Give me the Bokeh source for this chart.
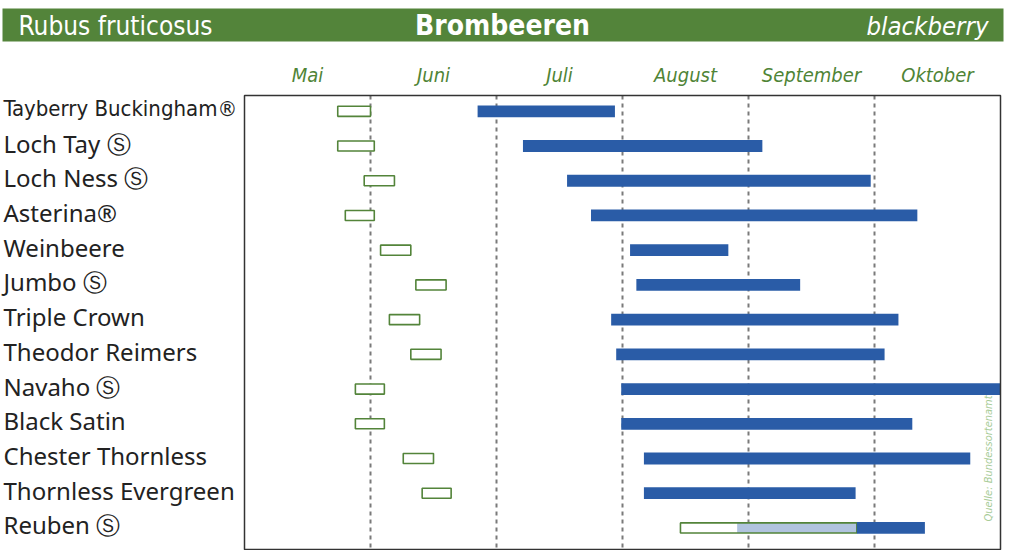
from math import pi
from bokeh.plotting import figure
from bokeh.models import Range1d
from bokeh.core.properties import value
from bokeh.embed import file_html
from bokeh.resources import INLINE

# ---------------- data ----------------
title_left = "Rubus fruticosus"
title_center = "Brombeeren"
title_right = "blackberry"
source_note = "Quelle: Bundessortenamt"

months = ["Mai", "Juni", "Juli", "August", "September", "Oktober"]
month_numbers = [5, 6, 7, 8, 9, 10]

varieties = [
    "Tayberry Buckingham®", "Loch Tay Ⓢ", "Loch Ness Ⓢ", "Asterina®",
    "Weinbeere", "Jumbo Ⓢ", "Triple Crown", "Theodor Reimers",
    "Navaho Ⓢ", "Black Satin", "Chester Thornless", "Thornless Evergreen",
    "Reuben Ⓢ",
]
# values in month units (5.0 = 1 May, 11.0 = 1 November)
bloom_start = [5.74, 5.74, 5.95, 5.80, 6.08, 6.36, 6.15, 6.32, 5.88, 5.88, 6.26, 6.41, 8.46]
bloom_end = [6.00, 6.03, 6.19, 6.03, 6.32, 6.60, 6.39, 6.56, 6.11, 6.11, 6.50, 6.64, 9.86]
harvest_start = [6.85, 7.21, 7.56, 7.75, 8.06, 8.11, 7.91, 7.95, 7.99, 7.99, 8.17, 8.17, 9.86]
harvest_end = [7.94, 9.11, 9.97, 10.34, 8.84, 9.41, 10.19, 10.08, 11.00, 10.30, 10.76, 9.85, 10.40]
# bloom and harvest at the same time
overlap_variety = ["Reuben Ⓢ"]
overlap_start = [8.91]
overlap_end = [9.86]

# ---------------- layout helpers (page pixels -> data) ----------------
PX_PER_MONTH = 126.0
BOX_LEFT_PX = 244.0
ROW0_PX = 110.8
ROW_PX = 34.72
FIG_W, FIG_H = 1010, 550
PAGE_OFF = 0


def X(px):
    return month_numbers[0] + (px - BOX_LEFT_PX) / PX_PER_MONTH


def Y(py):
    return (py - ROW0_PX) / ROW_PX


x_range = Range1d(X(PAGE_OFF), X(PAGE_OFF + FIG_W))
y_range = Range1d(Y(PAGE_OFF + FIG_H), Y(PAGE_OFF))

p = figure(width=FIG_W, height=FIG_H, x_range=x_range, y_range=y_range,
           output_backend="svg", toolbar_location=None, min_border=0,
           x_axis_type=None, y_axis_type=None)
p.grid.visible = False
p.outline_line_color = None
p.background_fill_color = "white"
p.border_fill_color = "white"

GREEN = "#53843a"
BLUE = "#2a5ca7"
LIGHT_BLUE = "#b1c4df"
COND = value("'DejaVu Sans Condensed', 'DejaVu Sans'")

# header band
p.quad(left=[X(2)], right=[X(1003)], top=[Y(8)], bottom=[Y(41)],
       fill_color=GREEN, line_color=None)
p.text(x=[X(18)], y=[Y(25.5)], text=[title_left], text_color="white",
       text_font=COND, text_font_size="26px",
       text_align="left", text_baseline="middle")
p.text(x=[X(502)], y=[Y(24.5)], text=[title_center], text_color="white",
       text_font=COND, text_font_size="28px",
       text_font_style="bold", text_align="center", text_baseline="middle")
p.text(x=[X(988)], y=[Y(25.5)], text=[title_right], text_color="white",
       text_font=COND, text_font_size="25.5px",
       text_font_style="italic", text_align="right", text_baseline="middle")

# month labels
p.text(x=[m + 0.5 for m in month_numbers], y=[Y(74)] * len(months), text=months,
       text_color="#4f8436", text_font=COND,
       text_font_size="20px", text_font_style="italic",
       text_align="center", text_baseline="middle")

box_left = month_numbers[0]
box_right = month_numbers[-1] + 1
box_top = Y(95)
box_bottom = Y(549)

# month boundary dashed lines
bounds = month_numbers[1:]
p.segment(x0=bounds, x1=bounds, y0=[box_top] * len(bounds), y1=[box_bottom] * len(bounds),
          line_color="#7a7a7a", line_width=2, line_dash="4 4")

rows = list(range(len(varieties)))
GH = 0.145   # half height of bloom boxes (rows)
BH = 0.17    # half height of harvest bars
g_top = [r - GH for r in rows]
g_bot = [r + GH for r in rows]

# bloom boxes (white fill)
p.quad(left=bloom_start, right=bloom_end, top=g_top, bottom=g_bot,
       fill_color="white", line_color=None)
# overlap (light blue)
oy = [varieties.index(v) for v in overlap_variety]
p.quad(left=overlap_start, right=overlap_end, top=[r - GH for r in oy],
       bottom=[r + GH for r in oy], fill_color=LIGHT_BLUE, line_color=None)
# bloom outlines
p.quad(left=bloom_start, right=bloom_end, top=g_top, bottom=g_bot,
       fill_color=None, line_color=GREEN, line_width=1.6)
# harvest bars
p.quad(left=harvest_start, right=harvest_end, top=[r - BH for r in rows],
       bottom=[r + BH for r in rows], fill_color=BLUE, line_color=None)

# frame box
p.quad(left=[box_left], right=[box_right], top=[box_top], bottom=[box_bottom],
       fill_color=None, line_color="#333333", line_width=1.5)

# variety labels (long ones set condensed, as in the original)
LBL_SHIFT = 3.0 / ROW_PX
long_rows = [r for r in rows if len(varieties[r]) > 19]
short_rows = [r for r in rows if len(varieties[r]) <= 19]
p.text(x=[X(3)] * len(short_rows), y=[r - LBL_SHIFT for r in short_rows],
       text=[varieties[r] for r in short_rows],
       text_color="#222222", text_font=value("Noto Sans"), text_font_size="24px",
       text_align="left", text_baseline="middle")
p.text(x=[X(3)] * len(long_rows), y=[r - LBL_SHIFT for r in long_rows],
       text=[varieties[r] for r in long_rows],
       text_color="#222222", text_font=COND, text_font_size="22px",
       text_align="left", text_baseline="middle")

# source note
p.text(x=[X(988)], y=[Y(458)], text=[source_note], text_color="#a8cc98",
       text_font=COND, text_font_size="11px",
       text_font_style="italic", angle=pi / 2, text_align="center",
       text_baseline="middle")

open("out.html", "w").write(file_html(p, INLINE))
